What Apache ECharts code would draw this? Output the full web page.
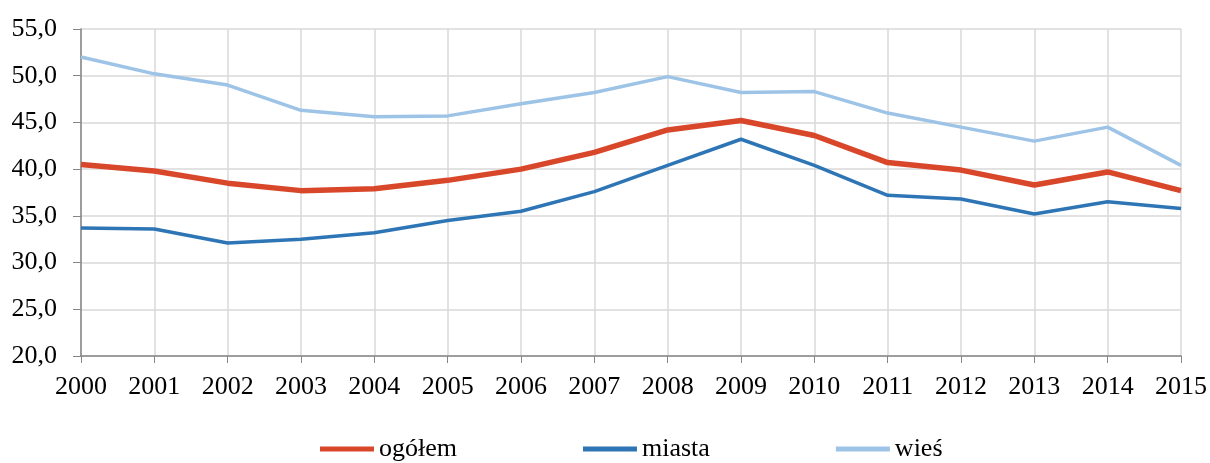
<!DOCTYPE html>
<html>
<head>
<meta charset="utf-8">
<script src="https://cdn.jsdelivr.net/npm/echarts@6/dist/echarts.min.js"></script>
<style>
  html, body { margin: 0; padding: 0; background: #fff; }
  #main { width: 1210px; height: 463px; }
</style>
</head>
<body>
<div id="main"></div>
<script>
// lata
var years = ['2000', '2001', '2002', '2003', '2004', '2005', '2006', '2007',
  '2008', '2009', '2010', '2011', '2012', '2013', '2014', '2015'];
var ogolem = [40.5, 39.8, 38.5, 37.7, 37.9, 38.8, 40.0, 41.8, 44.2, 45.2, 43.6, 40.7, 39.9, 38.3, 39.7, 37.7];
var miasta = [33.7, 33.6, 32.1, 32.5, 33.2, 34.5, 35.5, 37.6, 40.4, 43.2, 40.4, 37.2, 36.8, 35.2, 36.5, 35.8];
var wies = [52.0, 50.2, 49.0, 46.3, 45.6, 45.7, 47.0, 48.2, 49.9, 48.2, 48.3, 46.0, 44.5, 43.0, 44.5, 40.4];

var font = "'Liberation Serif', 'Times New Roman', serif";
var chart = echarts.init(document.getElementById('main'), null, { renderer: 'canvas' });

var option = {
  animation: false,
  backgroundColor: '#ffffff',
  grid: { left: 81, right: 28, top: 29, bottom: 107, containLabel: false },
  legend: {
    left: 315,
    top: 431,
    icon: 'rect',
    itemWidth: 54,
    itemHeight: 5,
    itemGap: 126,
    textStyle: { fontFamily: font, fontSize: 26, color: '#000' },
    data: ['ogółem', 'miasta', 'wieś']
  },
  xAxis: {
    type: 'category',
    boundaryGap: false,
    data: years,
    axisLine: { lineStyle: { color: '#868686', width: 1.5 } },
    axisTick: { show: true, length: 7, lineStyle: { color: '#868686' } },
    axisLabel: { fontFamily: font, fontSize: 26, color: '#000', margin: 18 },
    splitLine: { show: true, lineStyle: { color: '#D9D9D9', width: 1.5 } }
  },
  yAxis: {
    type: 'value',
    min: 20,
    max: 55,
    interval: 5,
    axisLine: { show: true, lineStyle: { color: '#868686', width: 1.5 } },
    axisTick: { show: true, length: 8, lineStyle: { color: '#868686' } },
    axisLabel: {
      fontFamily: font, fontSize: 26, color: '#000', margin: 24,
      formatter: function (v) { return v.toFixed(1).replace('.', ','); }
    },
    splitLine: { show: true, lineStyle: { color: '#D9D9D9', width: 1.5 } }
  },
  series: [{
    name: 'ogółem',
    type: 'line',
    data: ogolem,
    showSymbol: false,
    z: 3,
    itemStyle: { color: '#D9472B' },
    lineStyle: { color: '#D9472B', width: 5.5 }
  }, {
    name: 'miasta',
    type: 'line',
    data: miasta,
    showSymbol: false,
    itemStyle: { color: '#2E75B6' },
    lineStyle: { color: '#2E75B6', width: 3.5 }
  }, {
    name: 'wieś',
    type: 'line',
    data: wies,
    showSymbol: false,
    itemStyle: { color: '#9DC3E6' },
    lineStyle: { color: '#9DC3E6', width: 3.5 }
  }]
};

chart.setOption(option);
</script>
</body>
</html>
